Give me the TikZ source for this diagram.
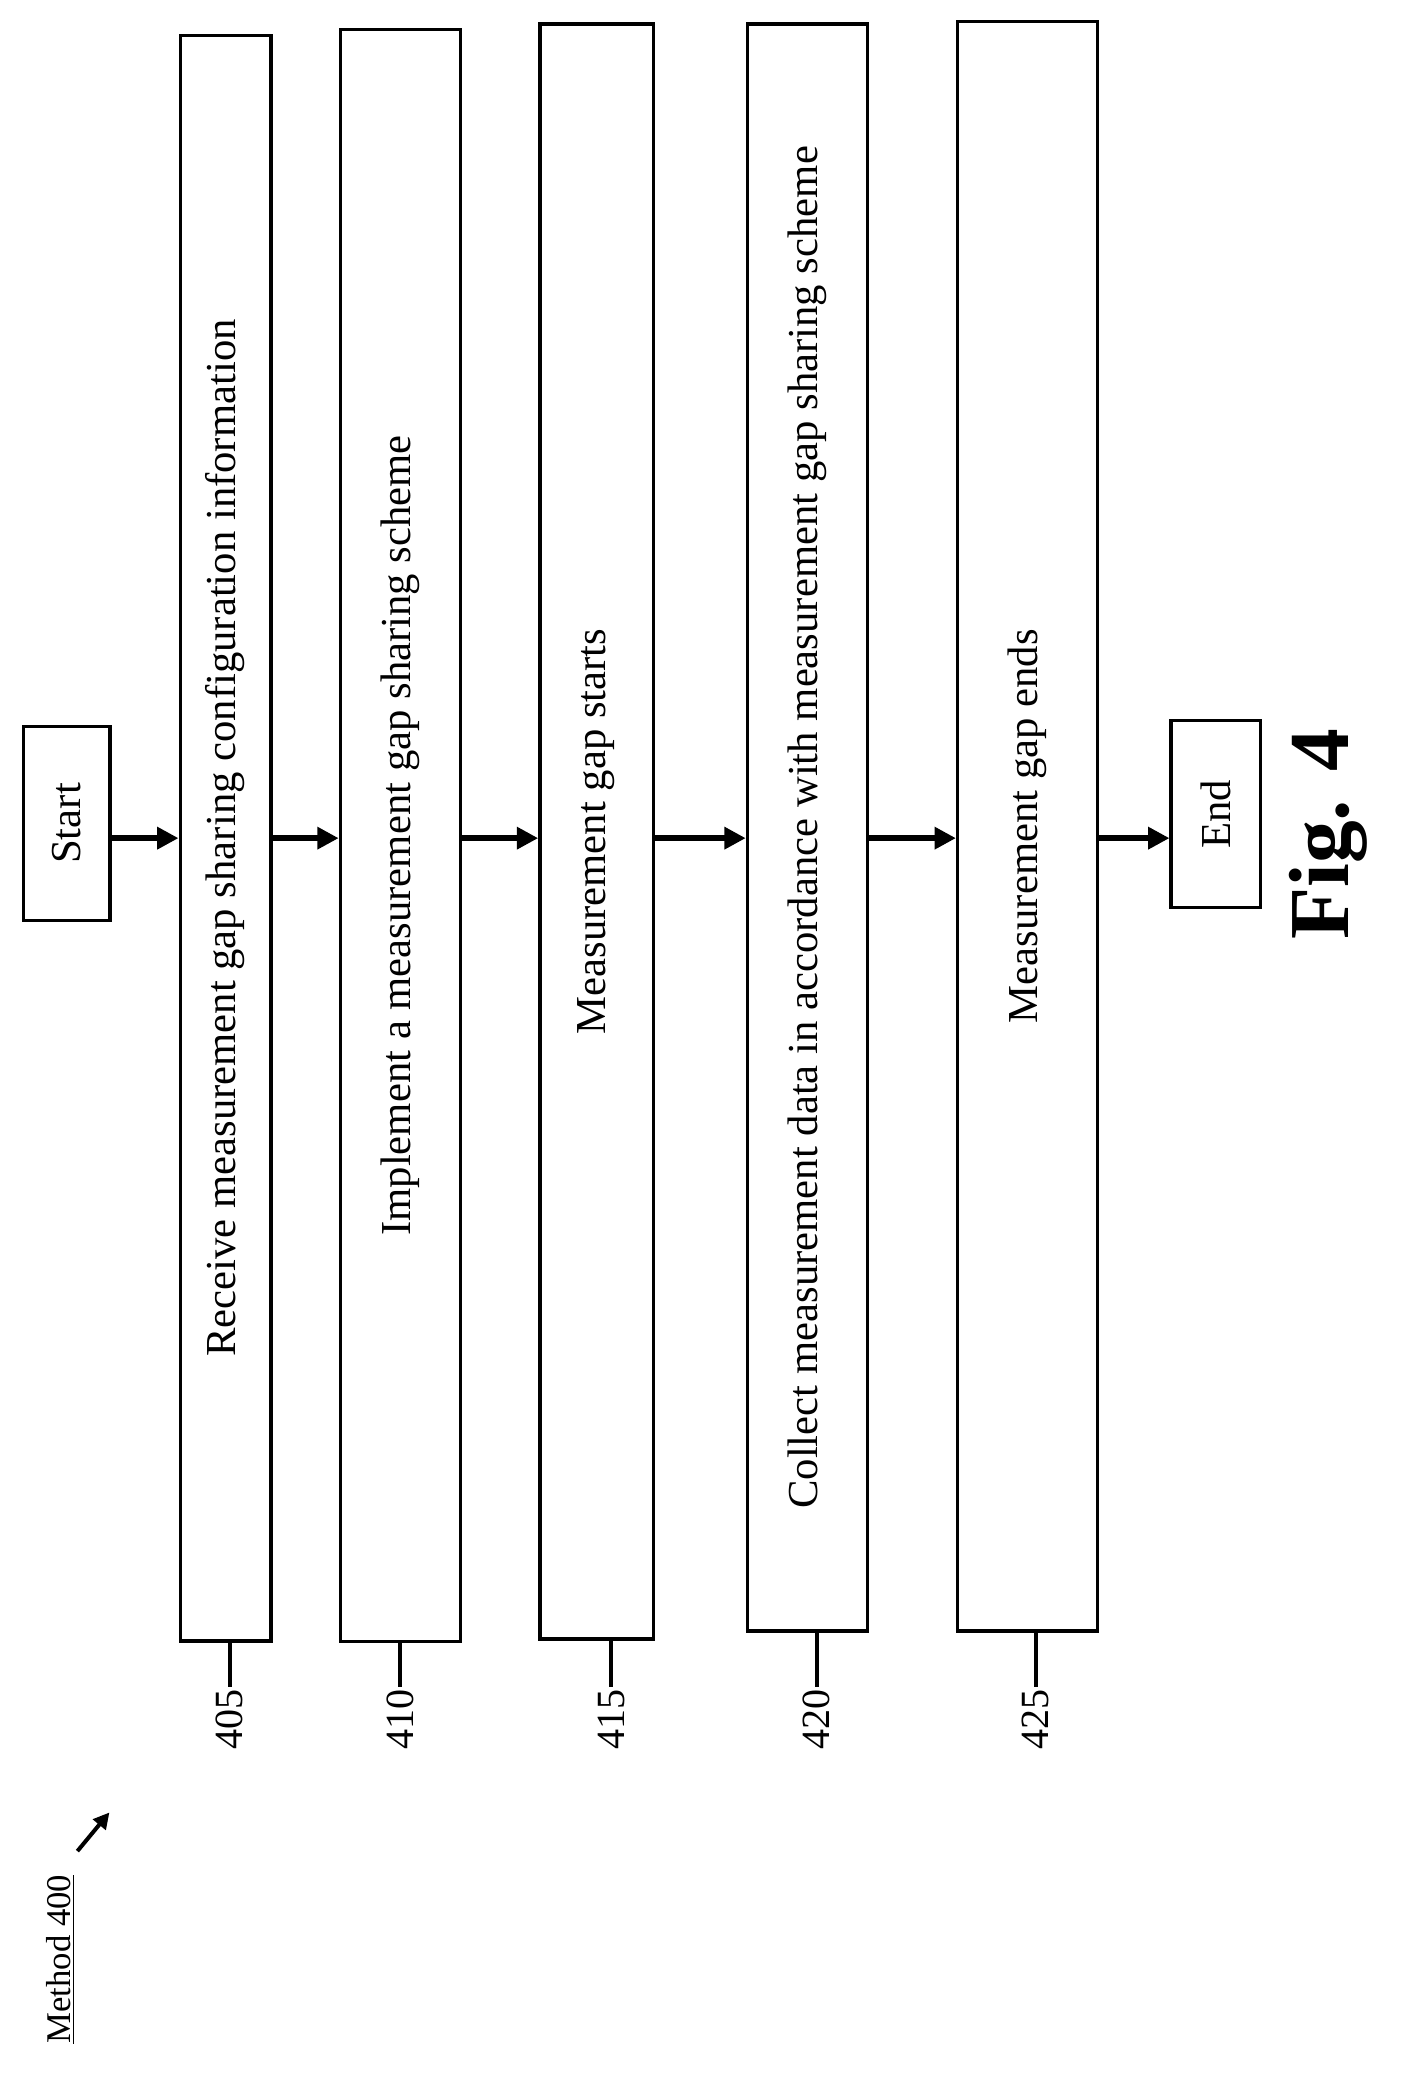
\documentclass[tikz,border=0pt]{standalone}
\usepackage{fontspec}
\setmainfont{Liberation Serif}
\usetikzlibrary{positioning, arrows.meta}
\tikzset{
  stepbox/.style={draw, line width=2.5pt, rotate=90, align=center, inner sep=0pt, font=\fontsize{32}{38}\selectfont},
  arr/.style={-{Triangle[length=16pt,width=16pt]}, line width=4pt},
  num/.style={rotate=90, anchor=east, inner sep=2pt, font=\fontsize{30}{36}\selectfont}
}
\begin{document}
\begin{tikzpicture}[x=1pt,y=1pt]
\useasboundingbox (0,0) rectangle (1060,-1560);
\node (start) [stepbox, minimum width=145, minimum height=65] at (50,-617) {Start};
\node (r405) [stepbox, minimum width=1203, minimum height=68] at (169,-628) {Receive measurement gap sharing configuration information};
\node (r410) [stepbox, minimum width=1208, minimum height=90] at (300,-626) {Implement a measurement gap sharing scheme};
\node (r415) [stepbox, minimum width=1210, minimum height=85] at (447,-623) {Measurement gap starts};
\node (r420) [stepbox, minimum width=1204, minimum height=90] at (605,-620) {Collect measurement data in accordance with measurement gap sharing scheme};
\node (r425) [stepbox, minimum width=1206, minimum height=105] at (770,-619) {Measurement gap ends};
\node (end) [stepbox, minimum width=140, minimum height=67] at (911,-610) {End};

\coordinate (m) at (0,-628);
\draw[arr] (start.south |- m) -- (r405.north |- m);
\draw[arr] (r405.south |- m) -- (r410.north |- m);
\draw[arr] (r410.south |- m) -- (r415.north |- m);
\draw[arr] (r415.south |- m) -- (r420.north |- m);
\draw[arr] (r420.south |- m) -- (r425.north |- m);
\draw[arr] (r425.south |- m) -- (end.north |- m);

% reference numerals
\node (l405) [num] at (172,-1264) {405};
\node (l410) [num] at (300,-1264) {410};
\node (l415) [num] at (458,-1264) {415};
\node (l420) [num] at (612,-1264) {420};
\node (l425) [num] at (776,-1264) {425};
\foreach \n in {405,410,415,420,425}
  \draw[line width=3pt] (l\n.east |- r\n.west) -- (l\n.east);

\node (method) [rotate=90, font=\fontsize{26}{30}\selectfont] at (45,-1468) {\underline{Method 400}};
\coordinate (mtip) at (82,-1358);
\draw[-{Triangle[length=12pt,width=12pt]}, line width=3pt] (58,-1387) -- (mtip);

\node (fig) [rotate=90, font=\fontsize{64}{74}\selectfont\bfseries] at (995,-625) {Fig. 4};
\end{tikzpicture}
\end{document}
